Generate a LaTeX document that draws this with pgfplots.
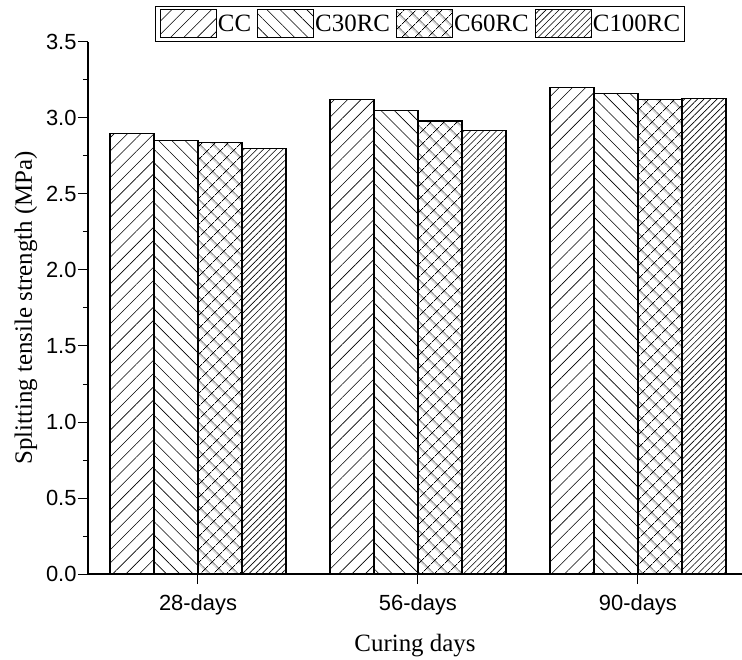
\documentclass[border=0pt]{standalone}
\usepackage{pgfplots}
\pgfplotsset{compat=1.18}
\usepackage{fontspec}
\setmainfont{Liberation Serif}
\newfontfamily\arialfont{Liberation Sans}
\usetikzlibrary{patterns.meta}
\begin{document}
\begin{tikzpicture}
\begin{axis}[
  name=ax,
  scale only axis,
  width=654bp, height=532bp,
  xmin=-0.5, xmax=2.473,
  ymin=0, ymax=3.5,
  axis x line*=bottom, axis y line*=left,
  axis line style={line width=1.1bp},
  ybar=0pt, bar width=0.2,
  xtick={0,1,2}, xticklabels={28-days,56-days,90-days},
  ytick={0,0.5,...,3.5},
  minor y tick num=1,
  tick align=outside,
  major tick length=10bp, minor tick length=5bp,
  tick style={line width=1bp, black},
  /pgf/number format/assume math mode=true,
  /pgf/number format/.cd, fixed, fixed zerofill, precision=1, /pgfplots/.cd,
  ticklabel style={font=\arialfont\fontsize{22}{25}\selectfont},
  xticklabel style={yshift=-7bp},
  yticklabel style={xshift=2bp},
  ylabel={Splitting tensile strength (MPa)},
  xlabel={Curing days},
  label style={font=\fontsize{25}{28}\selectfont},
  ylabel style={yshift=2bp},
  xlabel style={yshift=-12bp},
  legend columns=4,
  legend style={at={(0.5076,1.0677)}, anchor=north, draw=black, line width=0.8bp,
    font=\fontsize{25}{27}\selectfont, inner xsep=4bp, inner ysep=3bp,
    nodes={inner sep=0pt},
    /tikz/every even column/.style={column sep=6bp},
    /tikz/every odd column/.style={column sep=1bp}},
  legend cell align=left,
  legend image code/.code={\draw[#1,line width=1.1bp] (0bp,-14bp) rectangle (56bp,14bp);},
  every axis plot/.append style={draw=black, fill=white, line width=1.1bp},
]
\addplot[pattern={Lines[angle=45,distance=9.4bp,line width=0.6bp]}] coordinates {(0,2.90) (1,3.12) (2,3.20)};
\addplot[pattern={Lines[angle=-45,distance=9.4bp,line width=0.6bp]}] coordinates {(0,2.85) (1,3.05) (2,3.16)};
\addplot[pattern={Hatch[angle=45,distance=10bp,line width=0.8bp]}] coordinates {(0,2.84) (1,2.98) (2,3.12)};
\addplot[pattern={Lines[angle=45,distance=4.6bp,line width=0.6bp]}] coordinates {(0,2.80) (1,2.92) (2,3.13)};
\legend{CC,C30RC,C60RC,C100RC}
\end{axis}
\pgfresetboundingbox
\path[use as bounding box] ([shift={(-88bp,-86bp)}]ax.south west) rectangle ([shift={(654bp,574bp)}]ax.south west);
\end{tikzpicture}
\end{document}
